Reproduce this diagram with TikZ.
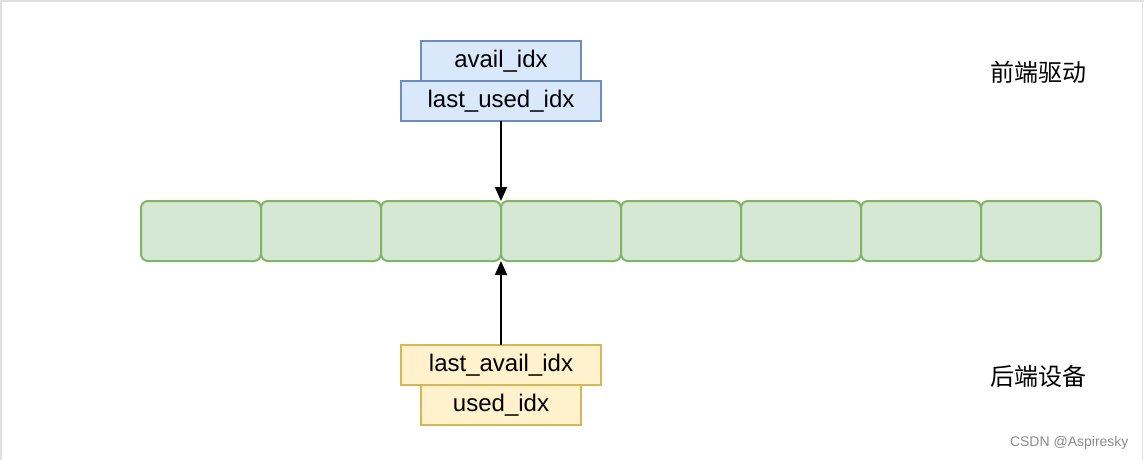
\documentclass[tikz,border=0pt]{standalone}
\usepackage{fontspec}
\setmainfont{Liberation Sans}
\newfontfamily\cjk{Noto Sans CJK SC}
\usetikzlibrary{arrows.meta}
\definecolor{bluefill}{HTML}{DAE8FC}
\definecolor{bluedraw}{HTML}{6C8EBF}
\definecolor{yelfill}{HTML}{FFF2CC}
\definecolor{yeldraw}{HTML}{D6B656}
\definecolor{grnfill}{HTML}{D5E8D4}
\definecolor{grndraw}{HTML}{82B366}
\begin{document}
\begin{tikzpicture}[x=1pt,y=-1pt,
  lbl/.style={font=\fontsize{24}{28}\selectfont},
  bluebox/.style={draw=bluedraw,fill=bluefill,line width=1.8pt,inner sep=0pt,outer sep=0pt,lbl},
  yelbox/.style={draw=yeldraw,fill=yelfill,line width=1.8pt,inner sep=0pt,outer sep=0pt,lbl},
  cell/.style={draw=grndraw,fill=grnfill,line width=2pt,rounded corners=7pt,minimum width=120pt,minimum height=60pt,inner sep=0pt,outer sep=0pt},
  arr/.style={line width=2pt,-{Triangle[length=14pt,width=12pt]}},
  side/.style={font=\cjk\fontsize{24}{28}\selectfont}]
\useasboundingbox (0,0) rectangle (1144,460);
\fill[white] (0,0) rectangle (1144,460);
\draw[black!12,line width=2pt] (1,460) -- (1,1) -- (1144,1);
\draw[black!12,line width=1pt] (1142.5,0) -- (1142.5,460);
% front end boxes
\node[bluebox,minimum width=160pt,minimum height=40pt] (avail) at (501,61) {avail\_idx};
\node[bluebox,minimum width=200pt,minimum height=40pt] (lastused) at (501,101) {last\_used\_idx};
% ring cells
\foreach \i in {0,...,7}{
  \node[cell] (c\i) at (201+120*\i,231) {};
}
% back end boxes
\node[yelbox,minimum width=200pt,minimum height=40pt] (lastavail) at (501,365) {last\_avail\_idx};
\node[yelbox,minimum width=160pt,minimum height=40pt] (used) at (501,405) {used\_idx};
% arrows
\draw[arr] (lastused.south) -- (lastused.south |- c3.north);
\draw[arr] (lastavail.north) -- (lastavail.north |- c3.south);
% side labels
\node[side] (front) at (1038,72) {前端驱动};
\node[side] (back) at (1038,376) {后端设备};
% watermark
\node[text=black!45,font=\fontsize{14}{16}\selectfont,anchor=east] (wm) at (1132,443) {CSDN @Aspiresky};
\end{tikzpicture}
\end{document}
